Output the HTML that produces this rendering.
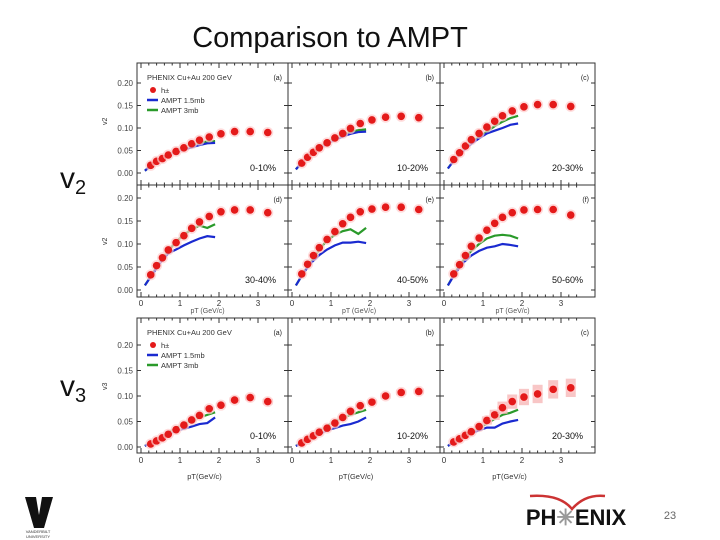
<!DOCTYPE html>
<html><head><meta charset="utf-8"><style>
body{margin:0;width:720px;height:540px;background:#fff;overflow:hidden;font-family:"Liberation Sans",sans-serif}
svg{position:absolute;left:0;top:0}
</style></head><body>
<svg id="s" width="720" height="540">
<text x="330" y="47" font-size="29" text-anchor="middle" fill="#111">Comparison to AMPT</text>
<text x="60" y="188" font-size="30" fill="#111">v<tspan font-size="20" dy="6">2</tspan></text>
<text x="60" y="396" font-size="30" fill="#111">v<tspan font-size="20" dy="6">3</tspan></text>
<text x="670" y="519" font-size="11" fill="#666" text-anchor="middle">23</text>
<g>
<path d="M530 496 Q560 494 572 509 Q585 494 605 496" stroke="#c33" stroke-width="2.5" fill="none"/>
<text x="576" y="525" font-size="22" font-weight="bold" text-anchor="middle" fill="#111">PH<tspan fill="#999">✳</tspan>ENIX</text>
</g>
<g>
<path d="M25 497 L36 497 L39 515 L42 497 L53 497 L44 528 L34 528 Z" fill="#111"/>
<text x="38" y="533" font-size="4" text-anchor="middle" fill="#333">VANDERBILT</text>
<text x="38" y="538" font-size="4" text-anchor="middle" fill="#333">UNIVERSITY</text>
</g>
</svg>
<script>
const ptPts=[0.25,0.4,0.55,0.7,0.9,1.1,1.3,1.5,1.75,2.05,2.4,2.8,3.25];
const ptLine=[0.1,0.3,0.5,0.7,0.9,1.1,1.3,1.5,1.7,1.9];
const yTicks=[0,0.05,0.10,0.15,0.20];
const yTickLabels=["0.00","0.05","0.10","0.15","0.20"];
const xTicks=[0,1,2,3];
const v2Pts=[
[.017,.026,.032,.04,.048,.056,.065,.073,.08,.087,.092,.092,.09],
[.022,.035,.046,.056,.067,.078,.088,.099,.11,.118,.124,.126,.123],
[.03,.045,.06,.074,.088,.102,.115,.127,.138,.147,.152,.152,.148],
[.033,.053,.07,.087,.103,.118,.134,.148,.16,.17,.174,.174,.168],
[.035,.056,.075,.092,.11,.127,.144,.158,.17,.176,.18,.18,.175],
[.035,.055,.075,.095,.113,.13,.145,.158,.168,.174,.175,.175,.163]];
const v2Blue=[
[.005,.02,.03,.04,.047,.052,.057,.062,.066,.067],
[.008,.028,.042,.055,.065,.074,.081,.087,.091,.092],
[.01,.033,.05,.065,.077,.088,.094,.1,.107,.11],
[.01,.035,.06,.08,.088,.097,.105,.112,.117,.115],
[.01,.038,.06,.076,.088,.097,.103,.103,.105,.102],
[.01,.038,.06,.075,.085,.092,.095,.1,.098,.095]];
const v2Green=[
[.005,.02,.031,.041,.05,.057,.063,.067,.07,.071],
[.008,.028,.043,.057,.068,.078,.086,.092,.095,.097],
[.01,.034,.052,.068,.08,.092,.104,.114,.122,.127],
[.01,.036,.062,.085,.105,.12,.132,.14,.135,.143],
[.01,.038,.062,.088,.108,.12,.128,.132,.122,.135],
[.01,.04,.065,.085,.1,.112,.118,.12,.118,.112]];
const v3Pts=[
[.006,.012,.018,.025,.034,.043,.053,.062,.075,.082,.092,.097,.089],
[.008,.015,.022,.029,.037,.047,.058,.07,.081,.088,.1,.107,.109],
[.01,.016,.023,.03,.04,.052,.063,.077,.089,.098,.104,.113,.116]];
const v3Blue=[
[.002,.01,.017,.025,.032,.036,.04,.045,.047,.058],
[.002,.01,.017,.025,.033,.037,.042,.045,.05,.058],
[.002,.012,.02,.027,.033,.038,.038,.046,.05,.053]];
const v3Green=[
[.002,.011,.02,.028,.037,.045,.052,.058,.063,.068],
[.002,.012,.022,.031,.041,.05,.057,.063,.068,.073],
[.002,.013,.022,.03,.037,.046,.055,.063,.067,.073]];
const v3Err=[0,0,0,0,.005,.008,.01,.012,.014,.016,.018,.018,.018];
const cent2=["0-10%","10-20%","20-30%","30-40%","40-50%","50-60%"];
const cent3=["0-10%","10-20%","20-30%"];
const tags=["(a)","(b)","(c)","(d)","(e)","(f)"];

const S=document.getElementById('s');const NS='http://www.w3.org/2000/svg';
function mk(t,a,p){const e=document.createElementNS(NS,t);for(const k in a)e.setAttribute(k,a[k]);(p||S).appendChild(e);return e;}
const colX=[137,288,440,595];
function panel(px0,px1,py0,py1,y0px,yScale,pts,blue,green,cent,tag,first,err,legend,name){
  const g=mk('g',{});
  
  
  const X=v=>px0+4+v*39, Y=v=>y0px-v*yScale;
  mk('rect',{x:px0,y:py0,width:px1-px0,height:py1-py0,fill:'none',stroke:'#333','stroke-width':1},g);
  for(let i=0;i<yTicks.length;i++){const y=Y(yTicks[i]);
    mk('line',{x1:px0,x2:px0+4,y1:y,y2:y,stroke:'#333'},g);mk('line',{x1:px1,x2:px1-4,y1:y,y2:y,stroke:'#333'},g);
    if(first){const t=mk('text',{x:px0-4,y:y+3,'font-size':8,'text-anchor':'end',fill:'#444'},g);t.textContent=yTickLabels[i];}}
  for(let v=0;v<=3.6;v+=0.2){const x=X(v);const L=Math.abs(v-Math.round(v))<0.01?5:2.5;
    mk('line',{x1:x,x2:x,y1:py1,y2:py1-L,stroke:'#333'},g);mk('line',{x1:x,x2:x,y1:py0,y2:py0+L,stroke:'#333'},g);}
  const bl=ptLine.map((p,i)=>X(p)+','+Y(blue[i])).join(' ');
  const gl=ptLine.map((p,i)=>X(p)+','+Y(green[i])).join(' ');
  const gp=mk('polyline',{points:gl,fill:'none',stroke:'#2a9a2a','stroke-width':2.2},g);
  
  const bp=mk('polyline',{points:bl,fill:'none',stroke:'#1a2ad0','stroke-width':2.2},g);
  
  pts.forEach((v,i)=>{
    if(err&&err[i]){const h=err[i]*yScale;mk('rect',{x:X(ptPts[i])-5,y:Y(v)-h,width:10,height:2*h,fill:'#f6b8b8',opacity:.8},g);}
    mk('circle',{cx:X(ptPts[i]),cy:Y(v),r:5.5,fill:'#fcc',opacity:.7},g);
    const c=mk('circle',{cx:X(ptPts[i]),cy:Y(v),r:3.8,fill:'#e41a1a'},g);
    });
  let t=mk('text',{x:px1-12,y:py1-14,'font-size':9,'text-anchor':'end',fill:'#111'},g);t.textContent=cent;
  t=mk('text',{x:px1-6,y:py0+17,'font-size':7,'text-anchor':'end',fill:'#222'},g);t.textContent=tag;
  if(legend){
    const lg=mk('g',{},g);
    let tt=mk('text',{x:px0+10,y:py0+17,'font-size':7.5,fill:'#333'},lg);tt.textContent='PHENIX Cu+Au 200 GeV';
    mk('circle',{cx:px0+16,cy:py0+27,r:3,fill:'#e41a1a'},lg);
    tt=mk('text',{x:px0+24,y:py0+30,'font-size':7.5,fill:'#333'},lg);tt.textContent='h±';
    mk('line',{x1:px0+10,x2:px0+21,y1:py0+37,y2:py0+37,stroke:'#1a2ad0','stroke-width':2.5},lg);
    tt=mk('text',{x:px0+24,y:py0+40,'font-size':7.5,fill:'#333'},lg);tt.textContent='AMPT 1.5mb';
    mk('line',{x1:px0+10,x2:px0+21,y1:py0+47,y2:py0+47,stroke:'#2a9a2a','stroke-width':2.5},lg);
    tt=mk('text',{x:px0+24,y:py0+50,'font-size':7.5,fill:'#333'},lg);tt.textContent='AMPT 3mb';}
  return X;
}
const rows=[{py0:63,py1:185,y0:173,ys:450},{py0:185,py1:297,y0:290,ys:460}];
for(let r=0;r<2;r++)for(let c=0;c<3;c++){const k=r*3+c;const R=rows[r];
  const X=panel(colX[c],colX[c+1],R.py0,R.py1,R.y0,R.ys,v2Pts[k],v2Blue[k],v2Green[k],cent2[k],tags[k],c==0,null,k==0,'v2-panel-'+tags[k][1]);
  if(r==1){for(const v of xTicks){const t=mk('text',{x:X(v),y:306,'font-size':8,'text-anchor':'middle',fill:'#333'});t.textContent=v;}
    const t=mk('text',{x:(colX[c]+colX[c+1])/2-5,y:313,'font-size':7,'text-anchor':'middle',fill:'#555'});t.textContent='pT (GeV/c)';}}
for(let c=0;c<3;c++){
  const X=panel(colX[c],colX[c+1],318,453,447,510,v3Pts[c],v3Blue[c],v3Green[c],cent3[c],tags[c],c==0,c==2?v3Err:v3Err.map(e=>e*0.3),c==0,'v3-panel-'+tags[c][1]);
  for(const v of xTicks){const t=mk('text',{x:X(v),y:463,'font-size':8,'text-anchor':'middle',fill:'#333'});t.textContent=v;}
  const t=mk('text',{x:(colX[c]+colX[c+1])/2-8,y:479,'font-size':7.5,'text-anchor':'middle',fill:'#333'});t.textContent='pT(GeV/c)';}
let t=mk('text',{x:107,y:125,'font-size':7,fill:'#333',transform:'rotate(-90 107 125)'});t.textContent='v2';
t=mk('text',{x:107,y:245,'font-size':7,fill:'#333',transform:'rotate(-90 107 245)'});t.textContent='v2';
t=mk('text',{x:107,y:390,'font-size':7,fill:'#333',transform:'rotate(-90 107 390)'});t.textContent='v3';
</script>
</body></html>
